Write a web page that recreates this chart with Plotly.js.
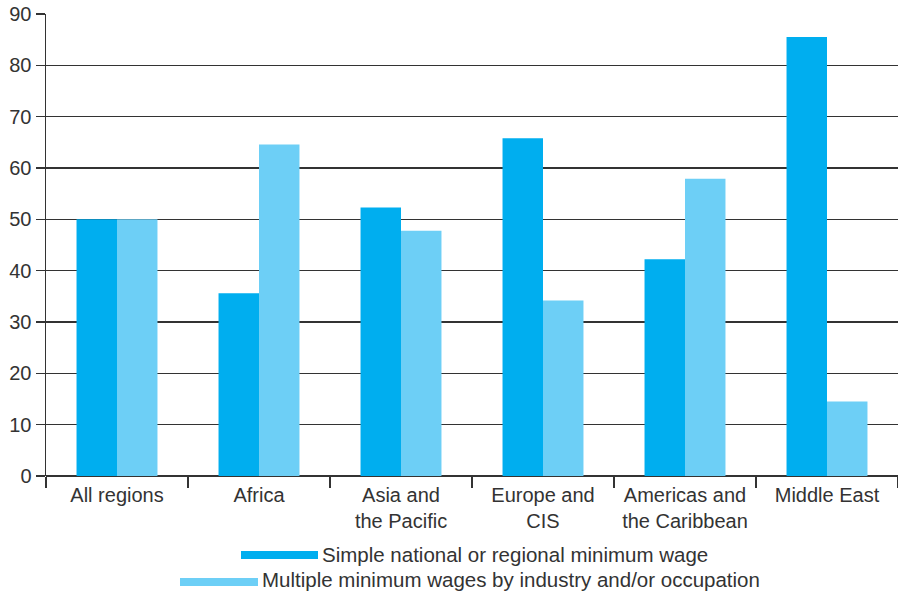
<!DOCTYPE html>
<html><head><meta charset="utf-8">
<script src="https://cdn.plot.ly/plotly-3.0.1.min.js"></script>
<style>html,body{margin:0;padding:0;background:#fff}#chart{width:898px;height:592px}</style>
</head><body><div id="chart"></div>
<script>
const categories = ["All regions", "Africa", "Asia and<br>the Pacific", "Europe and<br>CIS", "Americas and<br>the Caribbean", "Middle East"];
const simpleWage = [50, 35.6, 52.3, 65.8, 42.2, 85.5];
const multipleWage = [50, 64.6, 47.8, 34.2, 57.9, 14.5];
const seriesNames = ["Simple national or regional minimum wage", "Multiple minimum wages by industry and/or occupation"];
const colors = ["#00AEEF", "#6DCFF6"];
const yTicks = [0, 10, 20, 30, 40, 50, 60, 70, 80, 90];

const font = {family: "Liberation Sans, Arial, sans-serif", size: 20, color: "#333"};
const legendFont = {family: "Liberation Sans, Arial, sans-serif", size: 20.5, color: "#333"};
const traces = [
  {type: "bar", x: categories, y: simpleWage, name: seriesNames[0], marker: {color: colors[0]}, showlegend: false},
  {type: "bar", x: categories, y: multipleWage, name: seriesNames[1], marker: {color: colors[1]}, showlegend: false}
];
const layout = {
  width: 898, height: 592,
  margin: {l: 46, r: 0, t: 14, b: 116},
  paper_bgcolor: "#fff", plot_bgcolor: "#fff",
  font: font,
  barmode: "group", bargap: 0.43, bargroupgap: 0,
  xaxis: {
    type: "category", tickson: "boundaries", ticks: "outside", ticklen: 11, tickwidth: 1.5, tickcolor: "#333",
    showgrid: false, showline: false, tickfont: font, automargin: false, ticklabelstandoff: 5
  },
  yaxis: {
    range: [0, 90], tickvals: yTicks, ticks: "outside", ticklen: 9, tickwidth: 1.5, tickcolor: "#333",
    showgrid: true, gridcolor: "#333", gridwidth: 1.5, showline: true, linecolor: "#333", linewidth: 1.5,
    zeroline: true, zerolinecolor: "#333", zerolinewidth: 1.5, tickfont: font, automargin: false, layer: "below traces"
  },
  shapes: [
    {type: "rect", xref: "paper", yref: "paper", x0: 195/852, x1: 272/852, y0: -75/462, y1: -83/462, fillcolor: colors[0], line: {width: 0}},
    {type: "rect", xref: "paper", yref: "paper", x0: 134/852, x1: 212/852, y0: -102/462, y1: -110/462, fillcolor: colors[1], line: {width: 0}}
  ],
  annotations: [
    {xref: "paper", yref: "paper", x: 274/852, y: -78/462, xanchor: "left", yanchor: "middle", text: seriesNames[0], showarrow: false, font: legendFont},
    {xref: "paper", yref: "paper", x: 214/852, y: -103/462, xanchor: "left", yanchor: "middle", text: seriesNames[1], showarrow: false, font: legendFont}
  ]
};
Plotly.newPlot("chart", traces, layout, {displayModeBar: false, staticPlot: true});
</script></body></html>
